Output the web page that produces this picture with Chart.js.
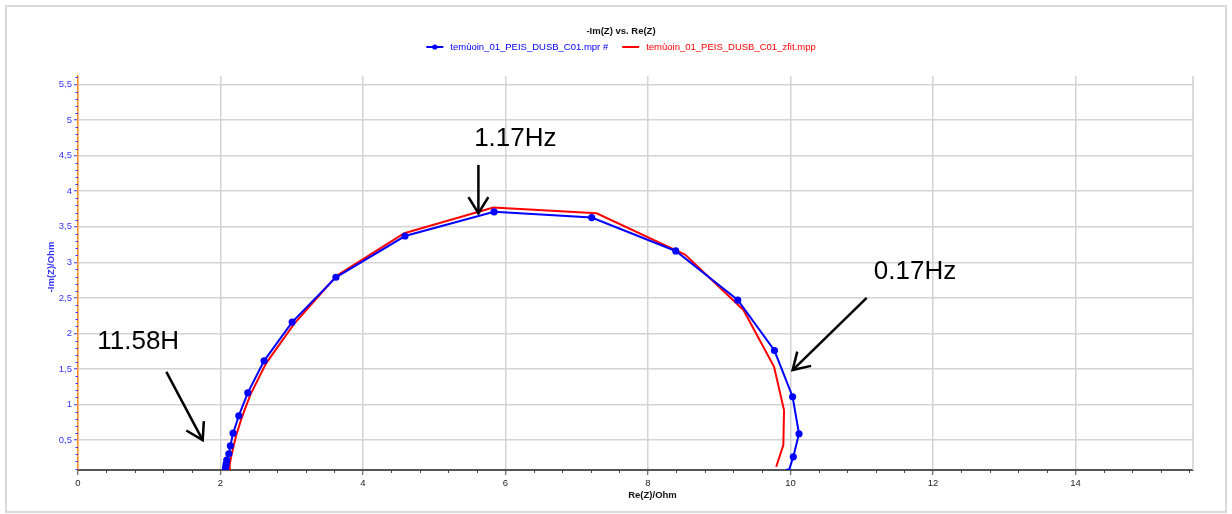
<!DOCTYPE html>
<html>
<head>
<meta charset="utf-8">
<script src="https://cdn.jsdelivr.net/npm/chart.js@4.4.1/dist/chart.umd.min.js"></script>
<style>
  body { margin: 0; background: #fff; }
  canvas { display: block; }
</style>
</head>
<body>
<canvas id="nyquist" width="1232" height="514"></canvas>
<script>
// tick labels
const xTicks = [0, 2, 4, 6, 8, 10, 12, 14];
const yTicks = [0.5, 1, 1.5, 2, 2.5, 3, 3.5, 4, 4.5, 5, 5.5];

// measured spectrum (blue, with markers)
const measRe = [2.07, 2.074, 2.079, 2.088, 2.117, 2.139, 2.177, 2.257, 2.383, 2.612, 3.006, 3.62, 4.59, 5.84, 7.21, 8.39, 9.26, 9.775, 10.03, 10.12, 10.04, 9.97];
const measIm = [0.09, 0.124, 0.162, 0.219, 0.307, 0.42, 0.598, 0.842, 1.165, 1.615, 2.16, 2.79, 3.37, 3.71, 3.63, 3.16, 2.47, 1.76, 1.11, 0.59, 0.265, 0.05];

// fitted spectrum (red line)
const fitRe = [2.12, 2.13, 2.15, 2.18, 2.22, 2.30, 2.42, 2.64, 3.03, 3.63, 4.58, 5.83, 7.28, 8.52, 9.34, 9.77, 9.91, 9.90, 9.80];
const fitIm = [0.07, 0.16, 0.27, 0.40, 0.57, 0.82, 1.14, 1.58, 2.13, 2.81, 3.41, 3.77, 3.69, 3.11, 2.33, 1.53, 0.92, 0.43, 0.125];

const seriesNames = ["temùoin_01_PEIS_DUSB_C01.mpr #", "temùoin_01_PEIS_DUSB_C01_zfit.mpp"];
const chartTitle = "-Im(Z) vs. Re(Z)";

// frequency call-outs: label, text anchor (x, y), arrow start, arrow tip (data units)
const noteLabels = ["11.58H", "1.17Hz", "0.17Hz"];
const noteText = [[0.27, 1.78], [5.56, 4.635], [11.17, 2.76]];
const noteFrom = [[1.24, 1.46], [5.62, 4.37], [11.07, 2.50]];
const noteTo = [[1.75, 0.50], [5.62, 3.69], [10.03, 1.485]];

const BLUE = "#0000ff";
const RED = "#ff0000";
const AXIS_BLUE = "#3434ff";

const toPts = (xs, ys) => xs.map((x, i) => ({ x: x, y: ys[i] }));

// title, legend, minor ticks, axis titles, frame and arrows
const decor = {
    id: "decor",
    afterDatasetsDraw(chart) {
        const { ctx, chartArea: a, scales: { x, y } } = chart;
        ctx.save();

        // right border of plot
        ctx.strokeStyle = "#cfcfcf";
        ctx.lineWidth = 1.5;
        ctx.beginPath();
        ctx.moveTo(a.right, a.top);
        ctx.lineTo(a.right, a.bottom);
        ctx.stroke();

        // minor ticks x
        ctx.strokeStyle = "#444";
        ctx.lineWidth = 1;
        for (let k = 1; k * 0.4 < x.max; k++) {
            if (k % 5 === 0) continue;
            const px = Math.round(x.getPixelForValue(k * 0.4)) + 0.5;
            ctx.beginPath();
            ctx.moveTo(px, a.bottom);
            ctx.lineTo(px, a.bottom + 3);
            ctx.stroke();
        }
        // minor ticks y
        ctx.strokeStyle = AXIS_BLUE;
        for (let k = 1; k * 0.1 < y.max; k++) {
            if (k % 5 === 0) continue;
            const py = Math.round(y.getPixelForValue(k * 0.1)) + 0.5;
            if (py > a.bottom) continue;
            ctx.beginPath();
            ctx.moveTo(a.left - 2.5, py);
            ctx.lineTo(a.left, py);
            ctx.stroke();
        }

        // axis titles
        ctx.font = "bold 9.5px 'Liberation Sans', Arial, sans-serif";
        ctx.fillStyle = "#111";
        ctx.textAlign = "center";
        ctx.textBaseline = "middle";
        ctx.fillText("Re(Z)/Ohm", (a.left + a.right) / 2 + 17, 495);
        ctx.save();
        ctx.translate(51, 267);
        ctx.rotate(-Math.PI / 2);
        ctx.fillStyle = AXIS_BLUE;
        ctx.fillText("-Im(Z)/Ohm", 0, 0);
        ctx.restore();

        // title
        ctx.font = "bold 9.5px 'Liberation Sans', Arial, sans-serif";
        ctx.fillStyle = "#111";
        ctx.fillText(chartTitle, 621, 31);

        // legend
        ctx.font = "9.5px 'Liberation Sans', Arial, sans-serif";
        ctx.textAlign = "left";
        const w0 = ctx.measureText(seriesNames[0]).width;
        const w1 = ctx.measureText(seriesNames[1]).width;
        const total = 24 + w0 + 14 + 24 + w1;
        let lx = 621 - total / 2;
        const ly = 47;
        ctx.lineWidth = 2;
        ctx.strokeStyle = BLUE;
        ctx.beginPath(); ctx.moveTo(lx, ly); ctx.lineTo(lx + 17, ly); ctx.stroke();
        ctx.fillStyle = BLUE;
        ctx.beginPath(); ctx.arc(lx + 8.5, ly, 2.6, 0, Math.PI * 2); ctx.fill();
        ctx.fillText(seriesNames[0], lx + 24, ly);
        lx += 24 + w0 + 14;
        ctx.strokeStyle = RED;
        ctx.beginPath(); ctx.moveTo(lx, ly); ctx.lineTo(lx + 17, ly); ctx.stroke();
        ctx.fillStyle = RED;
        ctx.fillText(seriesNames[1], lx + 24, ly);

        // call-outs
        ctx.fillStyle = "#000";
        ctx.strokeStyle = "#000";
        ctx.lineWidth = 2.5;
        ctx.font = "26px 'Liberation Sans', Arial, sans-serif";
        ctx.textBaseline = "alphabetic";
        noteLabels.forEach((lab, i) => {
            ctx.fillText(lab, x.getPixelForValue(noteText[i][0]), y.getPixelForValue(noteText[i][1]));
            const x1 = x.getPixelForValue(noteFrom[i][0]), y1 = y.getPixelForValue(noteFrom[i][1]);
            const x2 = x.getPixelForValue(noteTo[i][0]), y2 = y.getPixelForValue(noteTo[i][1]);
            ctx.beginPath(); ctx.moveTo(x1, y1); ctx.lineTo(x2, y2); ctx.stroke();
            const ang = Math.atan2(y2 - y1, x2 - x1);
            const head = 19, spread = 0.55;
            ctx.beginPath();
            ctx.moveTo(x2 - head * Math.cos(ang - spread), y2 - head * Math.sin(ang - spread));
            ctx.lineTo(x2, y2);
            ctx.lineTo(x2 - head * Math.cos(ang + spread), y2 - head * Math.sin(ang + spread));
            ctx.stroke();
        });

        // outer frame
        ctx.strokeStyle = "#d9d9d9";
        ctx.lineWidth = 2;
        ctx.strokeRect(6, 6, 1220, 506);
        ctx.restore();
    }
};

new Chart(document.getElementById("nyquist"), {
    type: "scatter",
    data: {
        datasets: [
            {
                label: seriesNames[0],
                data: toPts(measRe, measIm),
                showLine: true,
                borderColor: BLUE,
                backgroundColor: BLUE,
                borderWidth: 2,
                pointRadius: 2.6,
                pointHoverRadius: 2.6,
                clip: 0,
                order: 1
            },
            {
                label: seriesNames[1],
                data: toPts(fitRe, fitIm),
                showLine: true,
                borderColor: RED,
                backgroundColor: RED,
                borderWidth: 2,
                pointRadius: 0,
                clip: 0,
                order: 2
            }
        ]
    },
    options: {
        responsive: false,
        animation: false,
        events: [],
        layout: { padding: { left: 38, right: 39, top: 76, bottom: 14 } },
        plugins: {
            legend: { display: false },
            title: { display: false },
            tooltip: { enabled: false }
        },
        scales: {
            x: {
                type: "linear",
                min: 0,
                max: 15.65,
                afterBuildTicks: s => { s.ticks = xTicks.map(v => ({ value: v })); },
                afterFit: s => { s.height = 30; },
                ticks: {
                    color: "#222",
                    font: { family: "'Liberation Sans', Arial, sans-serif", size: 9.5 },
                    padding: 3
                },
                grid: { color: "#d3d3d3", lineWidth: 1.5, tickLength: 5, tickColor: "#444", tickWidth: 1 },
                border: { color: "#555", width: 2 }
            },
            y: {
                type: "linear",
                min: 0.08,
                max: 5.62,
                afterBuildTicks: s => { s.ticks = yTicks.map(v => ({ value: v })); },
                afterFit: s => { s.width = 40; },
                ticks: {
                    color: AXIS_BLUE,
                    font: { family: "'Liberation Sans', Arial, sans-serif", size: 9.5 },
                    padding: 2,
                    callback: v => String(v).replace(".", ",")
                },
                grid: { color: "#d3d3d3", lineWidth: 1.5, tickLength: 4, tickColor: AXIS_BLUE, tickWidth: 1 },
                border: { color: "#ff8c1a", width: 1.5 }
            }
        }
    },
    plugins: [decor]
});
</script>
</body>
</html>
